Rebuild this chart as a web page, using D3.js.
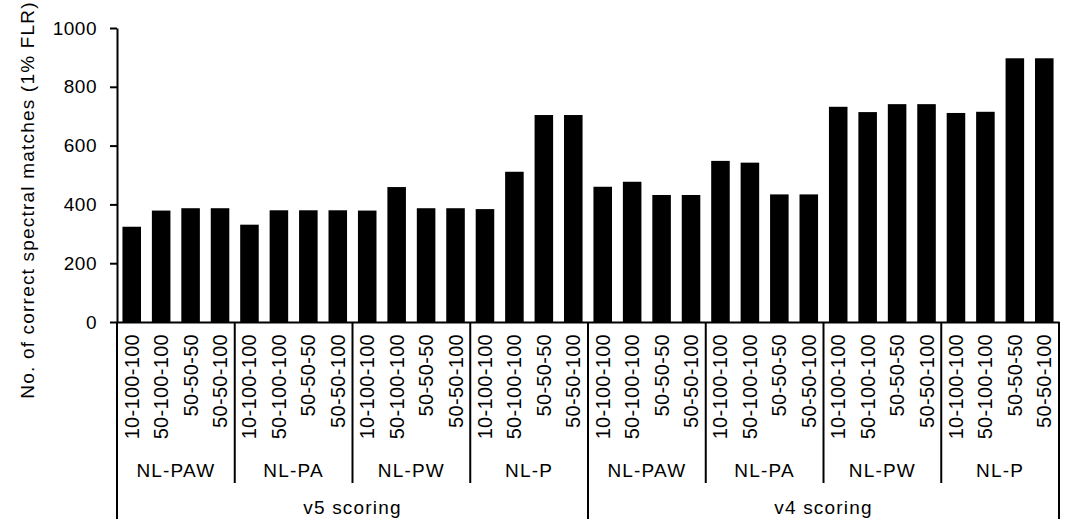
<!DOCTYPE html>
<html>
<head>
<meta charset="utf-8">
<script src="https://cdn.jsdelivr.net/npm/d3@7"></script>
<style>
  html, body { margin: 0; padding: 0; background: #fff; }
  svg { display: block; }
  text { font-family: "Liberation Sans", Arial, sans-serif; font-size: 19px; letter-spacing: 1.2px; fill: #000; }
  .axis path, .axis line { stroke: #000; stroke-width: 2; }
</style>
</head>
<body>
<div id="chart"></div>
<script>
const scorings = ["v5 scoring", "v4 scoring"];
const groups = ["NL-PAW", "NL-PA", "NL-PW", "NL-P"];
const settings = ["10-100-100", "50-100-100", "50-50-50", "50-50-100"];
// values in order: group by group, setting by setting
const v5Values = [324, 379, 387, 387, 331, 380, 380, 380, 379, 459, 387, 387, 384, 511, 704, 704];
const v4Values = [460, 477, 432, 432, 548, 542, 434, 434, 732, 714, 741, 741, 711, 715, 897, 897];
const yTicks = [0, 200, 400, 600, 800, 1000];
const yTitle = "No. of correct spectral matches (1% FLR)";

const W = 1066, H = 519;
const MARGIN = { top: 28, left: 117, right: 7, bottom: 197 };
const innerW = W - MARGIN.left - MARGIN.right;
const innerH = H - MARGIN.top - MARGIN.bottom;

// flat rows
const rows = [];
[v5Values, v4Values].forEach((vals, si) => {
  groups.forEach((grp, gi) => {
    settings.forEach((s, k) => {
      rows.push({ key: `${si}|${gi}|${k}`, scoring: scorings[si], group: grp, setting: s, value: vals[gi * settings.length + k] });
    });
  });
});

const svg = d3.select("#chart").append("svg").attr("width", W).attr("height", H);
const g = svg.append("g").attr("transform", `translate(${MARGIN.left},${MARGIN.top})`);

const x = d3.scaleBand()
  .domain(rows.map(d => d.key))
  .range([0, innerW])
  .paddingInner(0.37)
  .paddingOuter(0.185);

const y = d3.scaleLinear().domain([0, 1000]).range([innerH, 0]);

// bars
g.append("g").selectAll("rect")
  .data(rows)
  .join("rect")
  .attr("x", d => x(d.key))
  .attr("width", x.bandwidth())
  .attr("y", d => y(d.value))
  .attr("height", d => innerH - y(d.value))
  .attr("fill", "#000");

// y axis
const gy = g.append("g").attr("class", "axis")
  .call(d3.axisLeft(y).tickValues(yTicks).tickSize(7).tickSizeOuter(0).tickPadding(13).tickFormat(d3.format("d")));
gy.selectAll("text").style("font-size", "19px").style("letter-spacing", "0.5px");

// x axis with rotated setting labels
const gx = g.append("g").attr("class", "axis")
  .attr("transform", `translate(0,${innerH})`)
  .call(d3.axisBottom(x).tickSize(0).tickSizeOuter(0).tickFormat(k => rows.find(r => r.key === k).setting));
gx.selectAll("text")
  .style("font-size", "20px").style("letter-spacing", "0.3px")
  .attr("transform", "rotate(-90)")
  .attr("x", -12)
  .attr("y", 0)
  .attr("dy", "0.35em")
  .style("text-anchor", "end");

// group separators and labels
const step = x.step();
const half = (step - x.bandwidth()) / 2;
const sep = g.append("g").attr("class", "axis");
const nPer = settings.length;
const groupRows = [];
scorings.forEach((sc, si) => {
  groups.forEach((grp, gi) => {
    const first = rows[(si * groups.length + gi) * nPer];
    const last = rows[(si * groups.length + gi) * nPer + nPer - 1];
    groupRows.push({ si, gi, label: grp, x0: x(first.key) - half, x1: x(last.key) + x.bandwidth() + half });
  });
});

groupRows.forEach(d => {
  // left line of each group; outer lines of scoring blocks run longer
  const long = d.gi === 0;
  sep.append("line")
    .attr("x1", d.x0).attr("x2", d.x0)
    .attr("y1", innerH).attr("y2", long ? H - MARGIN.top + 2 : innerH + 161);
  g.append("text")
    .attr("x", (d.x0 + d.x1) / 2)
    .attr("y", innerH + 155)
    .attr("text-anchor", "middle")
    .text(d.label);
});
const lastX = groupRows[groupRows.length - 1].x1;
sep.append("line")
  .attr("x1", lastX).attr("x2", lastX)
  .attr("y1", innerH).attr("y2", H - MARGIN.top + 2);

// scoring labels
scorings.forEach((sc, si) => {
  const blk = groupRows.filter(d => d.si === si);
  g.append("text")
    .attr("x", (blk[0].x0 + blk[blk.length - 1].x1) / 2)
    .attr("y", innerH + 192)
    .attr("text-anchor", "middle")
    .text(sc);
});

// y title
svg.append("text")
  .attr("transform", `translate(34,${MARGIN.top + 172}) rotate(-90)`)
  .attr("text-anchor", "middle")
  .text(yTitle);
</script>
</body>
</html>
